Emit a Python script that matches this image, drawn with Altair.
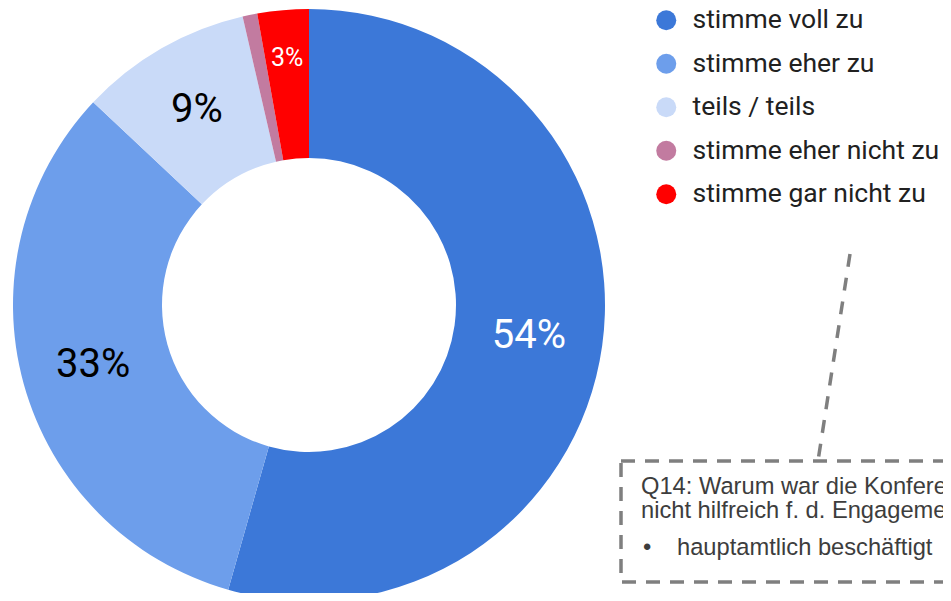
import altair as alt
import pandas as pd

categories = ["stimme voll zu", "stimme eher zu", "teils / teils",
              "stimme eher nicht zu", "stimme gar nicht zu"]
values = [54.4, 32.6, 9.4, 0.8, 2.8]
labels = ["54%", "33%", "9%", "", "3%"]
colors = ["#3c78d8", "#6d9eeb", "#c9daf8", "#c27ba0", "#ff0000"]
label_colors = ["#ffffff", "#000000", "#000000", "#000000", "#ffffff"]
label_sizes = [40, 40, 40, 25, 25]
label_radius = [222, 224, 225, 222, 248]

note_lines = ["Q14: Warum war die Konferenz", "nicht hilfreich f. d. Engagement"]
note_bullet = "hauptamtlich beschäftigt"

df = pd.DataFrame({
    "idx": list(range(len(categories))),
    "cat": categories,
    "value": values,
    "label": labels,
    "lc": label_colors,
    "ls": label_sizes,
    "lr": label_radius,
})

CX, CY = 301, 297
theta_scale = alt.Scale(domain=[0, 100])

arcs = alt.Chart(df).mark_arc(outerRadius=296, innerRadius=147, x=CX, y=CY).encode(
    theta=alt.Theta("value:Q", stack=True, scale=theta_scale),
    order=alt.Order("idx:Q"),
    color=alt.Color(
        "cat:N",
        scale=alt.Scale(domain=categories, range=colors),
        legend=alt.Legend(
            title=None,
            orient="none",
            legendX=645,
            legendY=-1,
            symbolType="circle",
            symbolSize=400,
            symbolStrokeWidth=0,
            symbolOpacity=1,
            labelFont="Roboto",
            labelFontSize=26.5,
            labelColor="#212121",
            labelOffset=13,
            labelLimit=500,
            rowPadding=16.5,
        ),
    ),
)

texts = alt.Chart(df).transform_window(
    cum="sum(value)", sort=[alt.SortField("idx", order="ascending")]
).transform_calculate(
    mid="datum.cum - datum.value / 2"
).mark_text(font="Roboto", x=CX, y=CY).encode(
    theta=alt.Theta("mid:Q", stack=None, scale=theta_scale),
    text="label:N",
    radius=alt.Radius("lr:Q", scale=None),
    fill=alt.Fill("lc:N", scale=None),
    size=alt.Size("ls:Q", scale=None),
)

one = pd.DataFrame({"a": [0]})

box = alt.Chart(one).mark_rect(
    fillOpacity=0, stroke="#7f7f7f", strokeWidth=3.5, strokeDash=[14, 10]
).encode(x=alt.value(613), x2=alt.value(980), y=alt.value(453), y2=alt.value(574))

connector = alt.Chart(one).mark_rule(
    stroke="#7f7f7f", strokeWidth=3.5, strokeDash=[13, 11]
).encode(x=alt.value(842), y=alt.value(246), x2=alt.value(810), y2=alt.value(453))

note_style = dict(font="Liberation Sans", fontSize=23.7, color="#3d3d3d",
                  align="left", baseline="alphabetic")

note1 = alt.Chart(pd.DataFrame({"t": [note_lines[0]]})).mark_text(**note_style).encode(
    x=alt.value(633), y=alt.value(486), text="t:N")
note2 = alt.Chart(pd.DataFrame({"t": [note_lines[1]]})).mark_text(**note_style).encode(
    x=alt.value(633), y=alt.value(510), text="t:N")
bullet = alt.Chart(pd.DataFrame({"t": ["•"]})).mark_text(**note_style).encode(
    x=alt.value(635), y=alt.value(547), text="t:N")
bullet_text = alt.Chart(pd.DataFrame({"t": [note_bullet]})).mark_text(**note_style).encode(
    x=alt.value(669), y=alt.value(547), text="t:N")

chart = alt.layer(arcs, texts, connector, box, note1, note2, bullet, bullet_text).properties(
    width=935, height=585, padding=0, autosize=alt.AutoSizeParams(type="none"),
    background="white",
).configure_view(stroke=None)

chart.save("out.html", embed_options={"renderer": "svg", "actions": False})
